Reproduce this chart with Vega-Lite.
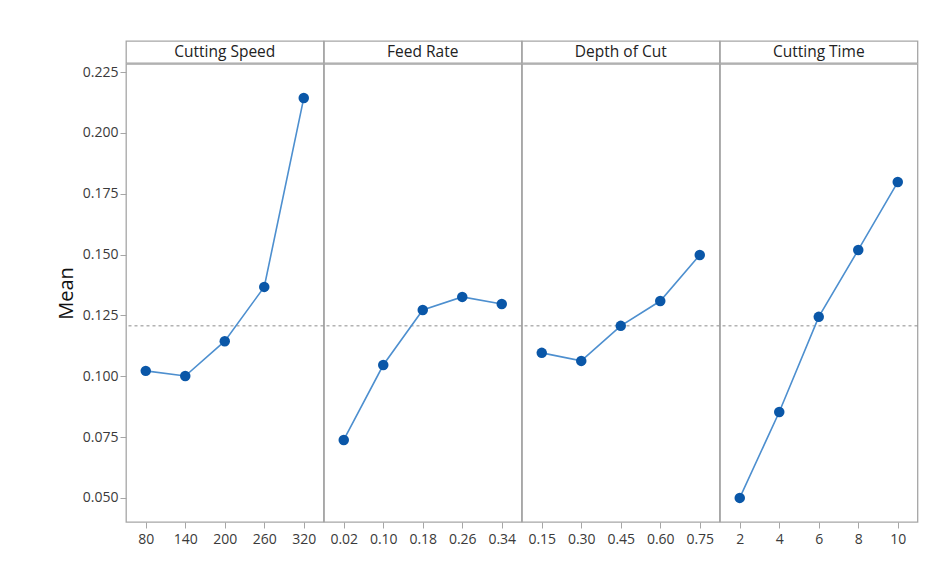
{
  "$schema": "https://vega.github.io/schema/vega-lite/v6.json",
  "background": "white",
  "padding": {"left": 56, "top": 40, "right": 22, "bottom": 20},
  "config": {
    "font": "Open Sans",
    "view": {"stroke": "#a6a6a6", "strokeWidth": 1.3},
    "axis": {"labelFont": "Open Sans", "labelFontSize": 14, "labelColor": "#3a3a3a", "tickColor": "#a6a6a6", "tickSize": 6, "domain": false, "grid": false}
  },
  "datasets": {
    "effects": [
      {"factor": "Cutting Speed", "level": "80", "ord": 1, "mean": 0.1022},
      {"factor": "Cutting Speed", "level": "140", "ord": 2, "mean": 0.1001},
      {"factor": "Cutting Speed", "level": "200", "ord": 3, "mean": 0.1144},
      {"factor": "Cutting Speed", "level": "260", "ord": 4, "mean": 0.1367},
      {"factor": "Cutting Speed", "level": "320", "ord": 5, "mean": 0.2143},
      {"factor": "Feed Rate", "level": "0.02", "ord": 1, "mean": 0.0738},
      {"factor": "Feed Rate", "level": "0.10", "ord": 2, "mean": 0.1046},
      {"factor": "Feed Rate", "level": "0.18", "ord": 3, "mean": 0.1272},
      {"factor": "Feed Rate", "level": "0.26", "ord": 4, "mean": 0.1326},
      {"factor": "Feed Rate", "level": "0.34", "ord": 5, "mean": 0.1297},
      {"factor": "Depth of Cut", "level": "0.15", "ord": 1, "mean": 0.1096},
      {"factor": "Depth of Cut", "level": "0.30", "ord": 2, "mean": 0.1063},
      {"factor": "Depth of Cut", "level": "0.45", "ord": 3, "mean": 0.1207},
      {"factor": "Depth of Cut", "level": "0.60", "ord": 4, "mean": 0.1309},
      {"factor": "Depth of Cut", "level": "0.75", "ord": 5, "mean": 0.1498},
      {"factor": "Cutting Time", "level": "2", "ord": 1, "mean": 0.0500},
      {"factor": "Cutting Time", "level": "4", "ord": 2, "mean": 0.0853},
      {"factor": "Cutting Time", "level": "6", "ord": 3, "mean": 0.1244},
      {"factor": "Cutting Time", "level": "8", "ord": 4, "mean": 0.1519},
      {"factor": "Cutting Time", "level": "10", "ord": 5, "mean": 0.1798}
    ],
    "headers": [
      {"factor": "Cutting Speed"},
      {"factor": "Feed Rate"},
      {"factor": "Depth of Cut"},
      {"factor": "Cutting Time"}
    ]
  },
  "spacing": -2,
  "vconcat": [
    {
      "data": {"name": "headers"},
      "facet": {"column": {"field": "factor", "sort": ["Cutting Speed", "Feed Rate", "Depth of Cut", "Cutting Time"], "header": null}},
      "spacing": 0,
      "bounds": "flush",
      "spec": {
        "width": 197.5,
        "height": 22,
        "view": {"stroke": "#a6a6a6", "strokeWidth": 1.3, "fill": "white"},
        "mark": {"type": "text", "font": "Open Sans", "fontSize": 15.5, "color": "#222222", "baseline": "middle", "align": "center"},
        "encoding": {"text": {"field": "factor"}}
      }
    },
    {
      "data": {"name": "effects"},
      "facet": {"column": {"field": "factor", "sort": ["Cutting Speed", "Feed Rate", "Depth of Cut", "Cutting Time"], "header": null}},
      "spacing": 0,
      "bounds": "flush",
      "resolve": {"scale": {"x": "independent"}},
      "spec": {
        "width": 197.5,
        "height": 458,
        "layer": [
          {
            "transform": [{"aggregate": [{"op": "count", "as": "n"}], "groupby": ["factor"]}],
            "mark": {"type": "rule", "stroke": "#8c8c8c", "strokeWidth": 1, "strokeDash": [3, 3]},
            "encoding": {"y": {"datum": 0.1207, "type": "quantitative"}}
          },
          {
            "mark": {"type": "line", "color": "#4d8fcf", "strokeWidth": 1.6},
            "encoding": {
              "x": {"field": "level", "type": "ordinal", "sort": {"field": "ord", "op": "min"}, "axis": {"title": null, "labelAngle": 0, "labelPadding": 4}},
              "y": {"field": "mean", "type": "quantitative", "scale": {"domain": [0.0401, 0.2283], "nice": false, "zero": false}, "axis": {"title": "Mean", "titleFontSize": 20, "titleFont": "Open Sans", "titleFontWeight": "normal", "titleColor": "#111111", "titlePadding": 6, "format": ".3f", "values": [0.05, 0.075, 0.1, 0.125, 0.15, 0.175, 0.2, 0.225], "labelPadding": 2}}
            }
          },
          {
            "mark": {"type": "point", "filled": true, "size": 110, "color": "#0a57a8", "opacity": 1},
            "encoding": {
              "x": {"field": "level", "type": "ordinal", "sort": {"field": "ord", "op": "min"}},
              "y": {"field": "mean", "type": "quantitative"}
            }
          }
        ]
      }
    }
  ]
}
